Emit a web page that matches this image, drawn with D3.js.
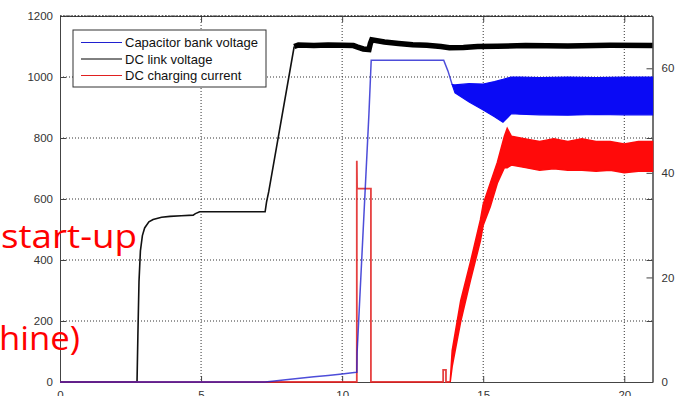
<!DOCTYPE html>
<html>
<head>
<meta charset="utf-8">
<script src="https://cdn.jsdelivr.net/npm/d3@7"></script>
<style>
  body { margin: 0; background: #fff; }
  svg { display: block; }
  .tick text { font-family: "Liberation Sans", Arial, sans-serif; font-size: 11.5px; fill: #333; }
</style>
</head>
<body>
<div class="graphic"></div>
<script>
// DC link voltage [t (s), V]
const dcLinkT = [0, 2.73, 2.76, 2.8, 2.85, 2.92, 3.0, 3.15, 3.3, 3.6, 3.9, 4.3, 4.72, 4.8, 4.95, 7.27, 7.32, 7.4, 8.3, 8.45,
  9.0, 9.5, 10.0, 10.4, 10.55, 10.75, 10.95, 11.0, 11.05, 11.5, 12.0, 12.5, 13.0, 13.5, 13.8, 14.3, 14.8, 15.5, 16.5, 18, 19.5, 21];
const dcLinkV = [0, 0, 150, 330, 430, 480, 505, 525, 533, 540, 543, 545, 547, 552, 558, 558, 590, 625, 1100, 1105,
  1103, 1105, 1104, 1103, 1098, 1092, 1090, 1110, 1122, 1115, 1110, 1106, 1104, 1100, 1096, 1097, 1100, 1101, 1103, 1102, 1104, 1103];

// Capacitor bank voltage [t, V] before oscillation
const capT = [0, 7.27, 7.6, 8.0, 8.5, 9.0, 9.5, 10.0, 10.5, 10.52, 10.53, 10.57, 10.95, 11.03, 13.6, 13.75, 13.9];
const capV = [0, 0, 3, 7, 12, 17, 21, 26, 32, 32, 95, 170, 880, 1055, 1055, 1020, 975];
// capacitor bank oscillation envelope
const capBandT = [13.9, 14.0, 14.5, 15.0, 15.4, 15.7, 16.0, 16.3, 17, 18, 19, 20, 21];
const capBandHi = [975, 974, 978, 977, 985, 992, 1000, 1000, 998, 1000, 998, 1000, 1000];
const capBandLo = [975, 948, 918, 892, 870, 852, 880, 878, 876, 875, 877, 876, 876];

// DC charging current [t, A] (right axis)
const curT = [0, 10.52, 10.52, 10.53, 11.02, 11.02, 13.58, 13.58, 13.68, 13.68, 13.83];
const curA = [0, 0, 42.3, 37, 37, 0, 0, 2.3, 2.3, 0, 0];
const curBandT = [13.83, 13.9, 14.2, 14.55, 14.9, 15.0, 15.25, 15.5, 15.75, 15.85, 16.0, 16.5, 17, 17.5, 18, 18.5, 19, 19.5, 20, 20.5, 21];
const curBandHi = [0, 6, 15.5, 23, 31, 34, 38, 42, 47, 48.5, 47, 46.5, 46, 46.5, 46, 46.5, 46, 46, 45.5, 46, 46];
const curBandLo = [0, 3, 11.5, 19.5, 27, 30, 33.5, 38, 41, 41, 41.5, 41, 40.5, 40.8, 40.5, 40.5, 40.3, 40.5, 40, 40.3, 40.3];

const xTicks = [0, 5, 10, 15, 20];
const yTicks = [0, 200, 400, 600, 800, 1000, 1200];
const y2Ticks = [0, 20, 40, 60];
const seriesNames = ['Capacitor bank voltage', 'DC link voltage', 'DC charging current'];
const seriesColors = ['#2020d0', '#000', '#e02020'];

const W = 683, H = 396;
const margin = {top: 16, right: 30.5, bottom: 14, left: 60};
const iw = W - margin.left - margin.right, ih = H - margin.top - margin.bottom;

const svg = d3.select('.graphic').append('svg').attr('width', W).attr('height', H);
const g = svg.append('g').attr('transform', 'translate(' + margin.left + ',' + margin.top + ')');

const x = d3.scaleLinear().domain([0, 21]).range([0, iw]);
const y = d3.scaleLinear().domain([0, 1200]).range([ih, 0]);
const y2 = d3.scaleLinear().domain([0, 70]).range([ih, 0]);

// grid
g.selectAll('.hgrid').data(yTicks.slice(1)).enter().append('line')
  .attr('x1', 0).attr('x2', iw).attr('y1', d => y(d)).attr('y2', d => y(d))
  .style('stroke', '#333').style('stroke-dasharray', '1,2');
g.selectAll('.vgrid').data(xTicks.slice(1)).enter().append('line')
  .attr('y1', 0).attr('y2', ih).attr('x1', d => x(d)).attr('x2', d => x(d))
  .style('stroke', '#333').style('stroke-dasharray', '1,2');

// axes
const fmt = d3.format('d');
g.append('g').attr('transform', 'translate(0,' + ih + ')')
  .call(d3.axisBottom(x).tickValues(xTicks).tickFormat(fmt).tickSizeInner(-6).tickSizeOuter(0).tickPadding(9));
g.append('g').call(d3.axisTop(x).tickValues(xTicks).tickFormat('').tickSizeInner(-6).tickSizeOuter(0));
g.append('g').call(d3.axisLeft(y).tickValues(yTicks).tickFormat(fmt).tickSizeInner(-6).tickSizeOuter(0).tickPadding(7));
g.append('g').attr('transform', 'translate(' + iw + ',0)')
  .call(d3.axisRight(y).tickValues(yTicks).tickFormat('').tickSizeInner(-6).tickSizeOuter(0));
g.append('g').attr('transform', 'translate(' + iw + ',0)')
  .call(d3.axisRight(y2).tickValues(y2Ticks).tickFormat(fmt).tickSizeInner(-6).tickSizeOuter(0).tickPadding(9));
g.selectAll('.domain').style('stroke', '#444');
g.selectAll('.tick line').style('stroke', '#444');

// series
const line = d3.line().x(d => x(d[0])).y(d => d[2](d[1]));
const zip = (ts, vs, sc) => ts.map((t, i) => [t, vs[i], sc]);

const dcData = zip(dcLinkT, dcLinkV, y);
g.append('path').attr('d', line(dcData.filter(d => d[0] <= 8.3)))
  .style('fill', 'none').style('stroke', '#111').style('stroke-width', 1.6);
g.append('path').attr('d', line(dcData.filter(d => d[0] >= 8.3)))
  .style('fill', 'none').style('stroke', '#000').style('stroke-width', 5.5);

g.append('path').attr('d', line(zip(curT, curA, y2)))
  .style('fill', 'none').style('stroke', seriesColors[2]).style('stroke-width', 1.8).style('stroke-opacity', 0.85);

g.append('path').attr('d', line(zip(capT, capV, y)))
  .style('fill', 'none').style('stroke', seriesColors[0]).style('stroke-width', 1.5).style('stroke-opacity', 0.8);
const capArea = d3.area().x((d, i) => x(capBandT[i])).y0((d, i) => y(capBandLo[i])).y1((d, i) => y(capBandHi[i]));
g.append('path').attr('d', capArea(capBandT))
  .style('fill', '#0a0af5').style('stroke', '#0a0af5').style('stroke-width', 1.2);

const curArea = d3.area().x((d, i) => x(curBandT[i])).y0((d, i) => y2(curBandLo[i])).y1((d, i) => y2(curBandHi[i]));
g.append('path').attr('d', curArea(curBandT))
  .style('fill', '#ff0a0a').style('stroke', '#ff0a0a').style('stroke-width', 1.5);

// top border
g.append('line').attr('x1', 0).attr('x2', iw).attr('y1', 0).attr('y2', 0)
  .style('stroke', '#222').style('stroke-dasharray', '2,1.5');

// legend
const legend = svg.append('g').attr('transform', 'translate(73,30)');
legend.append('rect').attr('width', 193).attr('height', 57)
  .style('fill', '#fff').style('stroke', '#333').style('stroke-width', 1);
seriesNames.forEach((name, i) => {
  const row = legend.append('g').attr('transform', 'translate(0,' + (12.5 + i * 16.5) + ')');
  row.append('line').attr('x1', 8).attr('x2', 49).attr('y1', 0).attr('y2', 0)
    .style('stroke', seriesColors[i]).style('stroke-width', 1);
  row.append('text').attr('x', 52).attr('y', 4.5)
    .style('font-family', '"Liberation Sans", Arial, sans-serif').style('font-size', '13px').style('fill', '#111')
    .text(name);
});

// slide overlay text
svg.append('text').attr('x', 1).attr('y', 248).attr('textLength', 136).attr('lengthAdjust', 'spacingAndGlyphs')
  .style('font-family', '"Open Sans", sans-serif').style('font-size', '33px').style('fill', '#ff0000')
  .text('start-up');
svg.append('text').attr('x', -1).attr('y', 350).attr('textLength', 81).attr('lengthAdjust', 'spacingAndGlyphs')
  .style('font-family', '"Open Sans", sans-serif').style('font-size', '33px').style('fill', '#ff0000')
  .text('hine)');
</script>
</body>
</html>
